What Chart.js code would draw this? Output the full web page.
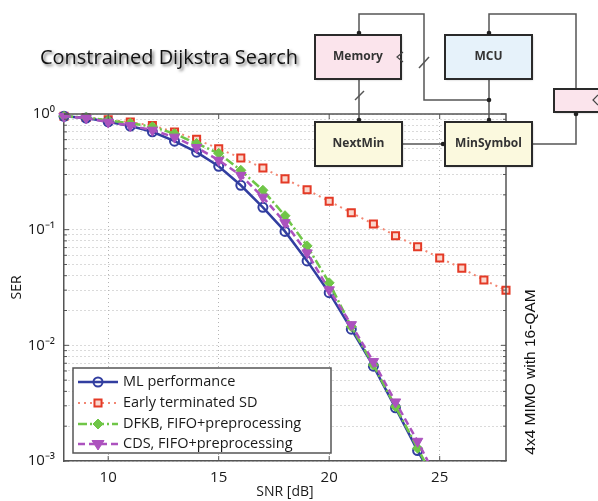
<!DOCTYPE html>
<html>
<head>
<meta charset="utf-8">
<script src="https://cdn.jsdelivr.net/npm/chart.js@4.4.1/dist/chart.umd.min.js"></script>
<style>
  html, body { margin: 0; padding: 0; background: #fff; }
  #chart { display: block; }
</style>
</head>
<body>
<canvas id="chart" width="598" height="501"></canvas>
<script>
// SNR points (dB)
const snr = [8, 9, 10, 11, 12, 13, 14, 15, 16, 17, 18, 19, 20, 21, 22, 23, 24, 25];
const snrEarly = [8, 9, 10, 11, 12, 13, 14, 15, 16, 17, 18, 19, 20, 21, 22, 23, 24, 25, 26, 27, 28];

// symbol error rate
const mlSer = [0.955, 0.923, 0.857, 0.787, 0.702, 0.582, 0.468, 0.353, 0.242, 0.156, 0.0966, 0.0537, 0.0285, 0.0138, 0.0066, 0.00288, 0.00123, 0.00056];
const earlySer = [0.955, 0.933, 0.891, 0.851, 0.794, 0.70, 0.603, 0.501, 0.417, 0.341, 0.275, 0.221, 0.176, 0.140, 0.112, 0.0887, 0.0711, 0.0568, 0.0465, 0.0367, 0.0299];
const dfkbSer = [0.955, 0.933, 0.881, 0.832, 0.776, 0.676, 0.556, 0.457, 0.326, 0.219, 0.132, 0.0724, 0.0347, 0.0145, 0.00676, 0.00295, 0.00129, 0.00056];
const cdsSer = [0.955, 0.923, 0.851, 0.794, 0.724, 0.631, 0.513, 0.398, 0.295, 0.191, 0.115, 0.063, 0.0302, 0.0151, 0.00724, 0.00324, 0.00148, 0.00063];

const xTicks = [10, 15, 20, 25];
const yDecades = [0.001, 0.01, 0.1, 1];
const yTickLabels = ["10⁻³", "10⁻²", "10⁻¹", "10⁰"];

// every 1..9 step of each decade, for the minor grid
let yTicks = [];
for (let d = 0; d < yDecades.length - 1; d++) {
  for (let k = 1; k < 10; k++) yTicks.push(Number((k * yDecades[d]).toPrecision(3)));
}
yTicks.push(yDecades[yDecades.length - 1]);

function pts(xs, ys) {
  return xs.map((x, i) => ({ x: x, y: ys[i] }));
}

const blue = "rgb(50,62,160)";
const red = "rgb(228,58,38)";
const redLine = "rgb(242,135,115)";
const green = "rgb(112,198,72)";
const purple = "rgb(172,82,190)";

const datasets = [
  {
    label: "ML performance",
    data: pts(snr, mlSer),
    borderColor: blue,
    borderWidth: 2.5,
    pointStyle: "circle",
    pointRadius: 4.5,
    pointBorderWidth: 2,
    pointBorderColor: blue,
    pointBackgroundColor: "rgba(255,255,255,0)",
    order: 2
  },
  {
    label: "Early terminated SD",
    data: pts(snrEarly, earlySer),
    borderColor: redLine,
    borderWidth: 2,
    borderDash: [2, 4],
    pointStyle: "rect",
    pointRadius: 5,
    pointBorderWidth: 2,
    pointBorderColor: red,
    pointBackgroundColor: "rgb(250,215,205)",
    order: 3
  },
  {
    label: "DFKB, FIFO+preprocessing",
    data: pts(snr, dfkbSer),
    borderColor: green,
    borderWidth: 2.5,
    borderDash: [9, 3, 2, 3],
    pointStyle: "rectRot",
    pointRadius: 5,
    pointBorderWidth: 1,
    pointBorderColor: green,
    pointBackgroundColor: green,
    order: 1
  },
  {
    label: "CDS, FIFO+preprocessing",
    data: pts(snr, cdsSer),
    borderColor: purple,
    borderWidth: 2.5,
    borderDash: [7, 4],
    pointStyle: "triangle",
    pointRotation: 180,
    pointRadius: 6,
    pointBorderWidth: 1,
    pointBorderColor: purple,
    pointBackgroundColor: purple,
    order: 0
  }
];
datasets.forEach(d => {
  d.fill = false;
  d.tension = 0;
  d.clip = { left: 8, top: 8, right: 8, bottom: 0 };
});

function marker(ctx, ds, x, y) {
  const r = ds.pointRadius;
  ctx.save();
  ctx.setLineDash([]);
  ctx.lineWidth = ds.pointBorderWidth;
  ctx.strokeStyle = ds.pointBorderColor;
  ctx.fillStyle = ds.pointBackgroundColor;
  ctx.beginPath();
  if (ds.pointStyle == "circle") {
    ctx.arc(x, y, r, 0, Math.PI * 2);
  } else if (ds.pointStyle == "rect") {
    const s = r * Math.SQRT1_2;
    ctx.rect(x - s, y - s, 2 * s, 2 * s);
  } else if (ds.pointStyle == "rectRot") {
    ctx.moveTo(x, y - r); ctx.lineTo(x + r, y); ctx.lineTo(x, y + r); ctx.lineTo(x - r, y); ctx.closePath();
  } else {
    ctx.moveTo(x - r, y - r * 0.58); ctx.lineTo(x + r, y - r * 0.58); ctx.lineTo(x, y + r); ctx.closePath();
  }
  ctx.fill();
  ctx.stroke();
  ctx.restore();
}

// block diagram helpers
function box(ctx, x, y, w, h, fill, text) {
  ctx.save();
  ctx.shadowColor = "rgba(0,0,0,0.25)";
  ctx.shadowOffsetX = 1;
  ctx.shadowOffsetY = 1;
  ctx.shadowBlur = 2;
  ctx.fillStyle = fill;
  ctx.fillRect(x, y, w, h);
  ctx.restore();
  ctx.save();
  ctx.strokeStyle = "#2a2a2a";
  ctx.lineWidth = 2;
  ctx.strokeRect(x, y, w, h);
  if (text) {
    ctx.fillStyle = "#333";
    ctx.font = "bold 12px 'Open Sans'";
    ctx.textAlign = "center";
    ctx.textBaseline = "middle";
    ctx.fillText(text, x + w / 2, y + h / 2);
  }
  ctx.restore();
}
function wire(ctx, p) {
  ctx.beginPath();
  ctx.moveTo(p[0][0], p[0][1]);
  for (let i = 1; i < p.length; i++) ctx.lineTo(p[i][0], p[i][1]);
  ctx.stroke();
}
function dot(ctx, x, y) {
  ctx.beginPath();
  ctx.arc(x, y, 2.3, 0, Math.PI * 2);
  ctx.fill();
}

const decor = {
  id: "decor",
  beforeDraw(chart) {
    const ctx = chart.ctx;
    ctx.save();
    ctx.fillStyle = "#fff";
    ctx.fillRect(0, 0, chart.width, chart.height);
    ctx.restore();
  },
  afterDraw(chart) {
    const ctx = chart.ctx;
    const a = chart.chartArea;
    const xs = chart.scales.x, ys = chart.scales.y;
    ctx.save();
    // box frame
    ctx.strokeStyle = "#555";
    ctx.lineWidth = 1.5;
    ctx.beginPath();
    ctx.moveTo(a.left, a.top); ctx.lineTo(a.right, a.top); ctx.lineTo(a.right, a.bottom);
    ctx.stroke();
    // inward ticks
    ctx.lineWidth = 1;
    xTicks.forEach(v => {
      const px = xs.getPixelForValue(v);
      ctx.beginPath();
      ctx.moveTo(px, a.bottom); ctx.lineTo(px, a.bottom - 5);
      ctx.moveTo(px, a.top); ctx.lineTo(px, a.top + 5);
      ctx.stroke();
    });
    yTicks.forEach(v => {
      const py = ys.getPixelForValue(v);
      const len = yDecades.includes(v) ? 5 : 3;
      ctx.beginPath();
      ctx.moveTo(a.left, py); ctx.lineTo(a.left + len, py);
      ctx.moveTo(a.right, py); ctx.lineTo(a.right - len, py);
      ctx.stroke();
    });

    // legend
    const lx = 73, ly = 368, lw = 258, lh = 85;
    ctx.fillStyle = "#fff";
    ctx.fillRect(lx, ly, lw, lh);
    ctx.strokeStyle = "#555";
    ctx.lineWidth = 1.5;
    ctx.strokeRect(lx, ly, lw, lh);
    const rows = [382, 403, 424, 444];
    chart.data.datasets.forEach((ds, i) => {
      const y = rows[i];
      ctx.save();
      ctx.strokeStyle = ds.borderColor;
      ctx.lineWidth = ds.borderWidth;
      ctx.setLineDash(ds.borderDash || []);
      ctx.beginPath();
      ctx.moveTo(78, y); ctx.lineTo(118, y);
      ctx.stroke();
      ctx.restore();
      marker(ctx, ds, 98, y);
      ctx.fillStyle = "#1a1a1a";
      ctx.font = "14.5px 'Open Sans'";
      ctx.textBaseline = "middle";
      ctx.fillText(ds.label, 123, y);
    });

    // title
    ctx.save();
    ctx.font = "20px 'Open Sans'";
    ctx.fillStyle = "#111";
    ctx.shadowColor = "rgba(0,0,0,0.55)";
    ctx.shadowOffsetX = 2;
    ctx.shadowOffsetY = 2;
    ctx.shadowBlur = 3;
    ctx.textBaseline = "alphabetic";
    ctx.fillText("Constrained Dijkstra Search", 40, 64, 258);
    ctx.restore();

    // side note
    ctx.save();
    ctx.translate(531, 372);
    ctx.rotate(-Math.PI / 2);
    ctx.font = "15.5px 'Liberation Sans'";
    ctx.fillStyle = "#111";
    ctx.textAlign = "center";
    ctx.textBaseline = "middle";
    ctx.fillText("4x4 MIMO with 16-QAM", 0, 0, 168);
    ctx.restore();

    // block diagram
    ctx.strokeStyle = "#555";
    ctx.fillStyle = "#333";
    ctx.lineWidth = 1.5;
    wire(ctx, [[359, 35], [359, 14], [424, 14], [424, 100], [489, 100]]);
    wire(ctx, [[489, 35], [489, 14], [576, 14], [576, 89]]);
    wire(ctx, [[489, 79], [489, 122]]);
    wire(ctx, [[359, 79], [359, 122]]);
    wire(ctx, [[402, 144], [445, 144]]);
    wire(ctx, [[532, 144], [576, 144], [576, 112]]);
    wire(ctx, [[419, 68], [429, 57]]);
    wire(ctx, [[355, 100], [364, 91]]);
    box(ctx, 315, 35, 86, 44, "#fbe4ec", "Memory");
    box(ctx, 445, 35, 87, 44, "#e6f2fa", "MCU");
    box(ctx, 315, 122, 87, 44, "#fbf9de", "NextMin");
    box(ctx, 445, 122, 87, 44, "#fbf9de", "MinSymbol");
    box(ctx, 554, 89, 50, 23, "#fbe4ec", "");
    ctx.strokeStyle = "#444";
    ctx.lineWidth = 1.2;
    wire(ctx, [[403, 52], [397, 57], [403, 62]]);
    wire(ctx, [[598, 95], [593, 100], [598, 105]]);
    ctx.fillStyle = "#222";
    [[359, 33], [489, 33], [489, 100], [359, 120], [489, 120], [443, 144], [576, 114]].forEach(p => dot(ctx, p[0], p[1]));
    ctx.restore();
  }
};

const tickFont = { family: "'Open Sans'", size: 15 };
const titleFont = { family: "'Open Sans'", size: 14 };

new Chart(document.getElementById("chart"), {
  type: "line",
  data: { datasets },
  options: {
    responsive: false,
    animation: false,
    devicePixelRatio: 1,
    layout: { padding: { top: 114, right: 92, left: 0, bottom: 0 } },
    plugins: { legend: { display: false }, tooltip: { enabled: false } },
    scales: {
      x: {
        type: "linear",
        min: 8,
        max: 28,
        afterBuildTicks: s => { s.ticks = xTicks.map(v => ({ value: v })); },
        afterFit: s => { s.height = 40; },
        grid: { color: "#b5b5b5", lineWidth: 1, drawTicks: false },
        border: { display: true, color: "#555", width: 1.5, dash: [1, 3] },
        ticks: { color: "#1a1a1a", font: tickFont, padding: 8, autoSkip: false, maxRotation: 0 },
        title: { display: true, text: "SNR [dB]", color: "#1a1a1a", font: titleFont, padding: { top: 0, bottom: 1 } }
      },
      y: {
        type: "logarithmic",
        min: 0.001,
        max: 1,
        afterBuildTicks: s => { s.ticks = yTicks.map(v => ({ value: v })); },
        afterFit: s => { s.width = 64; },
        grid: { color: "#b5b5b5", lineWidth: 1, drawTicks: false },
        border: { display: true, color: "#555", width: 1.5, dash: [1, 3] },
        ticks: {
          color: "#1a1a1a",
          font: tickFont,
          padding: 9,
          autoSkip: false,
          callback: v => {
            const i = yDecades.findIndex(d => Math.abs(d - v) < d * 1e-6);
            return i >= 0 ? yTickLabels[i] : "";
          }
        },
        title: { display: true, text: "SER", color: "#1a1a1a", font: titleFont, padding: { top: 9, bottom: 0 } }
      }
    }
  },
  plugins: [decor]
});
</script>
</body>
</html>
